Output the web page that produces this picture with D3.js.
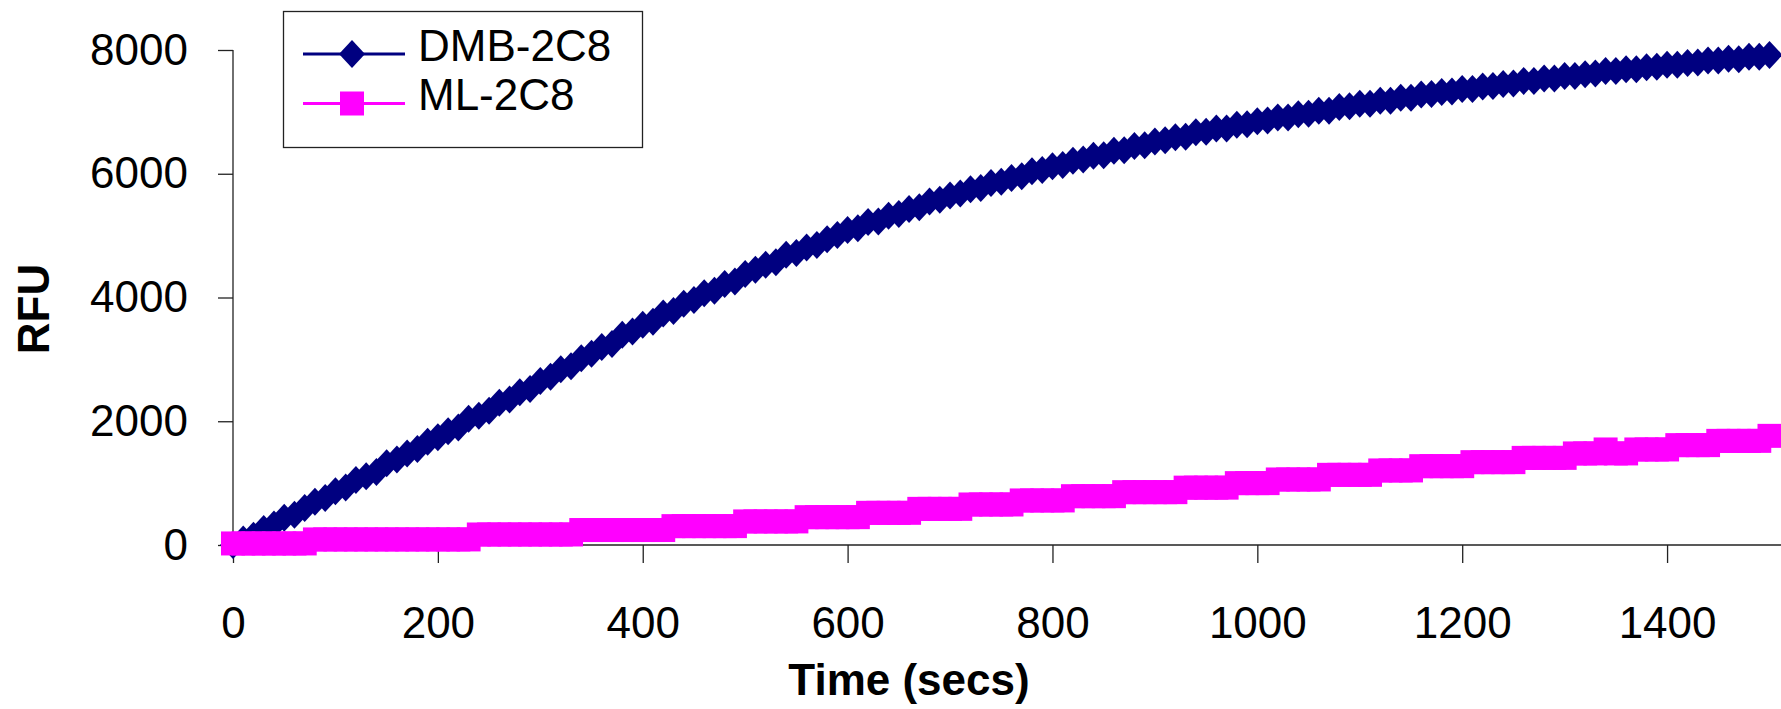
<!DOCTYPE html>
<html>
<head>
<meta charset="utf-8">
<script src="https://cdn.jsdelivr.net/npm/d3@7"></script>
<style>
  body { margin: 0; background: #fff; }
  svg { display: block; font-family: "Liberation Sans", Arial, sans-serif; }
</style>
</head>
<body>
<svg id="chart" width="1781" height="709"></svg>
<script>
// Time points of the kinetic read (seconds)
const timeSecs = [
  0, 10, 20, 30, 40, 50, 60, 70, 80, 90,
  100, 110, 120, 130, 140, 150, 160, 170, 180, 190,
  200, 210, 220, 230, 240, 250, 260, 270, 280, 290,
  300, 310, 320, 330, 340, 350, 360, 370, 380, 390,
  400, 410, 420, 430, 440, 450, 460, 470, 480, 490,
  500, 510, 520, 530, 540, 550, 560, 570, 580, 590,
  600, 610, 620, 630, 640, 650, 660, 670, 680, 690,
  700, 710, 720, 730, 740, 750, 760, 770, 780, 790,
  800, 810, 820, 830, 840, 850, 860, 870, 880, 890,
  900, 910, 920, 930, 940, 950, 960, 970, 980, 990,
  1000, 1010, 1020, 1030, 1040, 1050, 1060, 1070, 1080, 1090,
  1100, 1110, 1120, 1130, 1140, 1150, 1160, 1170, 1180, 1190,
  1200, 1210, 1220, 1230, 1240, 1250, 1260, 1270, 1280, 1290,
  1300, 1310, 1320, 1330, 1340, 1350, 1360, 1370, 1380, 1390,
  1400, 1410, 1420, 1430, 1440, 1450, 1460, 1470, 1480, 1490,
  1500
];

// RFU readings, DMB-2C8
const dmbRfu = [
  0, 90, 150, 260, 330, 440, 490, 600, 700, 760,
  870, 930, 1050, 1110, 1180, 1320, 1380, 1480, 1550, 1670,
  1740, 1840, 1900, 2040, 2090, 2170, 2300, 2350, 2470, 2520,
  2650, 2720, 2840, 2890, 3020, 3090, 3200, 3250, 3400, 3450,
  3560, 3610, 3740, 3780, 3900, 3960, 4070, 4110, 4220, 4260,
  4380, 4450, 4530, 4570, 4690, 4720, 4810, 4850, 4940, 5010,
  5090, 5120, 5220, 5230, 5320, 5350, 5430, 5460, 5550, 5580,
  5650, 5680, 5750, 5770, 5850, 5870, 5930, 5960, 6040, 6060,
  6120, 6140, 6210, 6230, 6290, 6300, 6370, 6380, 6450, 6460,
  6520, 6540, 6590, 6600, 6670, 6680, 6730, 6730, 6790, 6800,
  6850, 6860, 6910, 6910, 6960, 6970, 7020, 7020, 7080, 7090,
  7130, 7130, 7180, 7180, 7230, 7230, 7280, 7290, 7320, 7330,
  7370, 7370, 7410, 7420, 7450, 7460, 7500, 7500, 7540, 7540,
  7580, 7580, 7610, 7620, 7660, 7660, 7690, 7690, 7720, 7730,
  7760, 7760, 7790, 7800, 7830, 7830, 7860, 7850, 7890, 7890,
  7920
];

// RFU readings, ML-2C8
const mlRfu = [
  25, 25, 25, 25, 25, 25, 25, 25, 90, 90,
  90, 90, 90, 90, 90, 90, 90, 90, 90, 90,
  90, 90, 90, 90, 170, 170, 170, 170, 170, 170,
  170, 170, 170, 170, 242, 242, 242, 242, 242, 242,
  242, 242, 242, 305, 305, 305, 305, 305, 305, 305,
  381, 381, 381, 381, 381, 381, 450, 450, 450, 450,
  450, 450, 520, 520, 520, 520, 520, 584, 584, 584,
  584, 584, 655, 655, 655, 655, 655, 720, 720, 720,
  720, 720, 789, 789, 789, 789, 789, 854, 854, 854,
  854, 854, 854, 927, 927, 927, 927, 927, 1000, 1000,
  1000, 1000, 1059, 1059, 1059, 1059, 1059, 1134, 1134, 1134,
  1134, 1134, 1205, 1205, 1205, 1205, 1274, 1274, 1274, 1274,
  1274, 1339, 1339, 1339, 1339, 1339, 1408, 1408, 1408, 1408,
  1408, 1480, 1480, 1480, 1544, 1480, 1480, 1544, 1544, 1544,
  1544, 1614, 1614, 1614, 1614, 1683, 1683, 1683, 1683, 1683,
  1764
];

const seriesNames = ["DMB-2C8", "ML-2C8"];
const seriesColors = ["#000080", "#FF00FF"];
const seriesMarkers = ["diamond", "square"];
const xTickValues = [0, 200, 400, 600, 800, 1000, 1200, 1400];
const yTickValues = [0, 2000, 4000, 6000, 8000];
const xTitle = "Time (secs)";
const yTitle = "RFU";

const series = [dmbRfu, mlRfu].map((vals, i) => ({
  name: seriesNames[i],
  color: seriesColors[i],
  marker: seriesMarkers[i],
  points: timeSecs.map((t, j) => ({ t, v: vals[j] }))
}));

const svg = d3.select("#chart");
const FONT = 44;

const x = d3.scaleLinear().domain([0, 1500]).range([233, 1769.5]);
const y = d3.scaleLinear().domain([0, 8000]).range([545, 50]);

// Axes
const axisColor = "#222";
const yAxis = svg.append("g")
  .attr("transform", `translate(${x(0)},0)`)
  .call(d3.axisLeft(y).tickValues(yTickValues).tickSize(15).tickSizeOuter(0).tickPadding(30).tickFormat(d3.format("d")));
const xAxis = svg.append("g")
  .attr("transform", `translate(0,${y(0)})`)
  .call(d3.axisBottom(x).tickValues(xTickValues).tickSize(18).tickSizeOuter(0).tickPadding(44).tickFormat(d3.format("d")));

[xAxis, yAxis].forEach(g => {
  g.select(".domain").remove();
  g.selectAll("line").attr("stroke", axisColor).attr("stroke-width", 1.3);
  g.selectAll("text").attr("font-size", FONT).attr("fill", "#000")
    .attr("font-family", "'Liberation Sans', Arial, sans-serif");
});
xAxis.selectAll("text").attr("dy", "0.71em");

// Axis lines (x axis runs on past the last tick to the frame edge)
svg.append("line")
  .attr("x1", x(0)).attr("x2", 1781)
  .attr("y1", y(0)).attr("y2", y(0))
  .attr("stroke", axisColor).attr("stroke-width", 1.3);
svg.append("line")
  .attr("x1", x(0)).attr("x2", x(0))
  .attr("y1", y(8000)).attr("y2", y(0))
  .attr("stroke", axisColor).attr("stroke-width", 1.3);

// Axis titles
svg.append("text")
  .attr("x", 909).attr("y", 695)
  .attr("text-anchor", "middle")
  .attr("font-size", FONT).attr("font-weight", "bold")
  .text(xTitle);
svg.append("text")
  .attr("transform", `translate(49,309) rotate(-90)`)
  .attr("text-anchor", "middle")
  .attr("font-size", FONT).attr("font-weight", "bold")
  .text(yTitle);

// Marker shapes
const DIA_W = 13, DIA_H = 14, SQ = 24;
function drawMarker(sel, kind, color) {
  if (kind === "diamond") {
    sel.append("path")
      .attr("d", `M0,${-DIA_H}L${DIA_W},0L0,${DIA_H}L${-DIA_W},0Z`)
      .attr("fill", color);
  } else {
    sel.append("rect")
      .attr("x", -SQ / 2).attr("y", -SQ / 2)
      .attr("width", SQ).attr("height", SQ)
      .attr("fill", color);
  }
}

// Series: connecting line, then markers
const line = d3.line().x(d => x(d.t)).y(d => y(d.v));
series.forEach(s => {
  const g = svg.append("g");
  g.append("path")
    .datum(s.points)
    .attr("d", line)
    .attr("fill", "none")
    .attr("stroke", s.color)
    .attr("stroke-width", 3);
  g.selectAll("g.mk")
    .data(s.points)
    .join("g")
    .attr("class", "mk")
    .attr("transform", d => `translate(${x(d.t)},${y(d.v)})`)
    .each(function () { drawMarker(d3.select(this), s.marker, s.color); });
});

// Legend
const legend = svg.append("g");
legend.append("rect")
  .attr("x", 283.5).attr("y", 11.5)
  .attr("width", 359).attr("height", 136)
  .attr("fill", "#fff").attr("stroke", "#222").attr("stroke-width", 1.3);
series.forEach((s, i) => {
  const cy = 54 + i * 49.5;
  const row = legend.append("g");
  row.append("line")
    .attr("x1", 303).attr("x2", 405)
    .attr("y1", cy).attr("y2", cy)
    .attr("stroke", s.color).attr("stroke-width", 3);
  const m = row.append("g").attr("transform", `translate(352,${cy})`);
  drawMarker(m, s.marker, s.color);
  row.append("text")
    .attr("x", 418).attr("y", cy + 6.5)
    .attr("font-size", FONT)
    .text(s.name);
});
</script>
</body>
</html>
